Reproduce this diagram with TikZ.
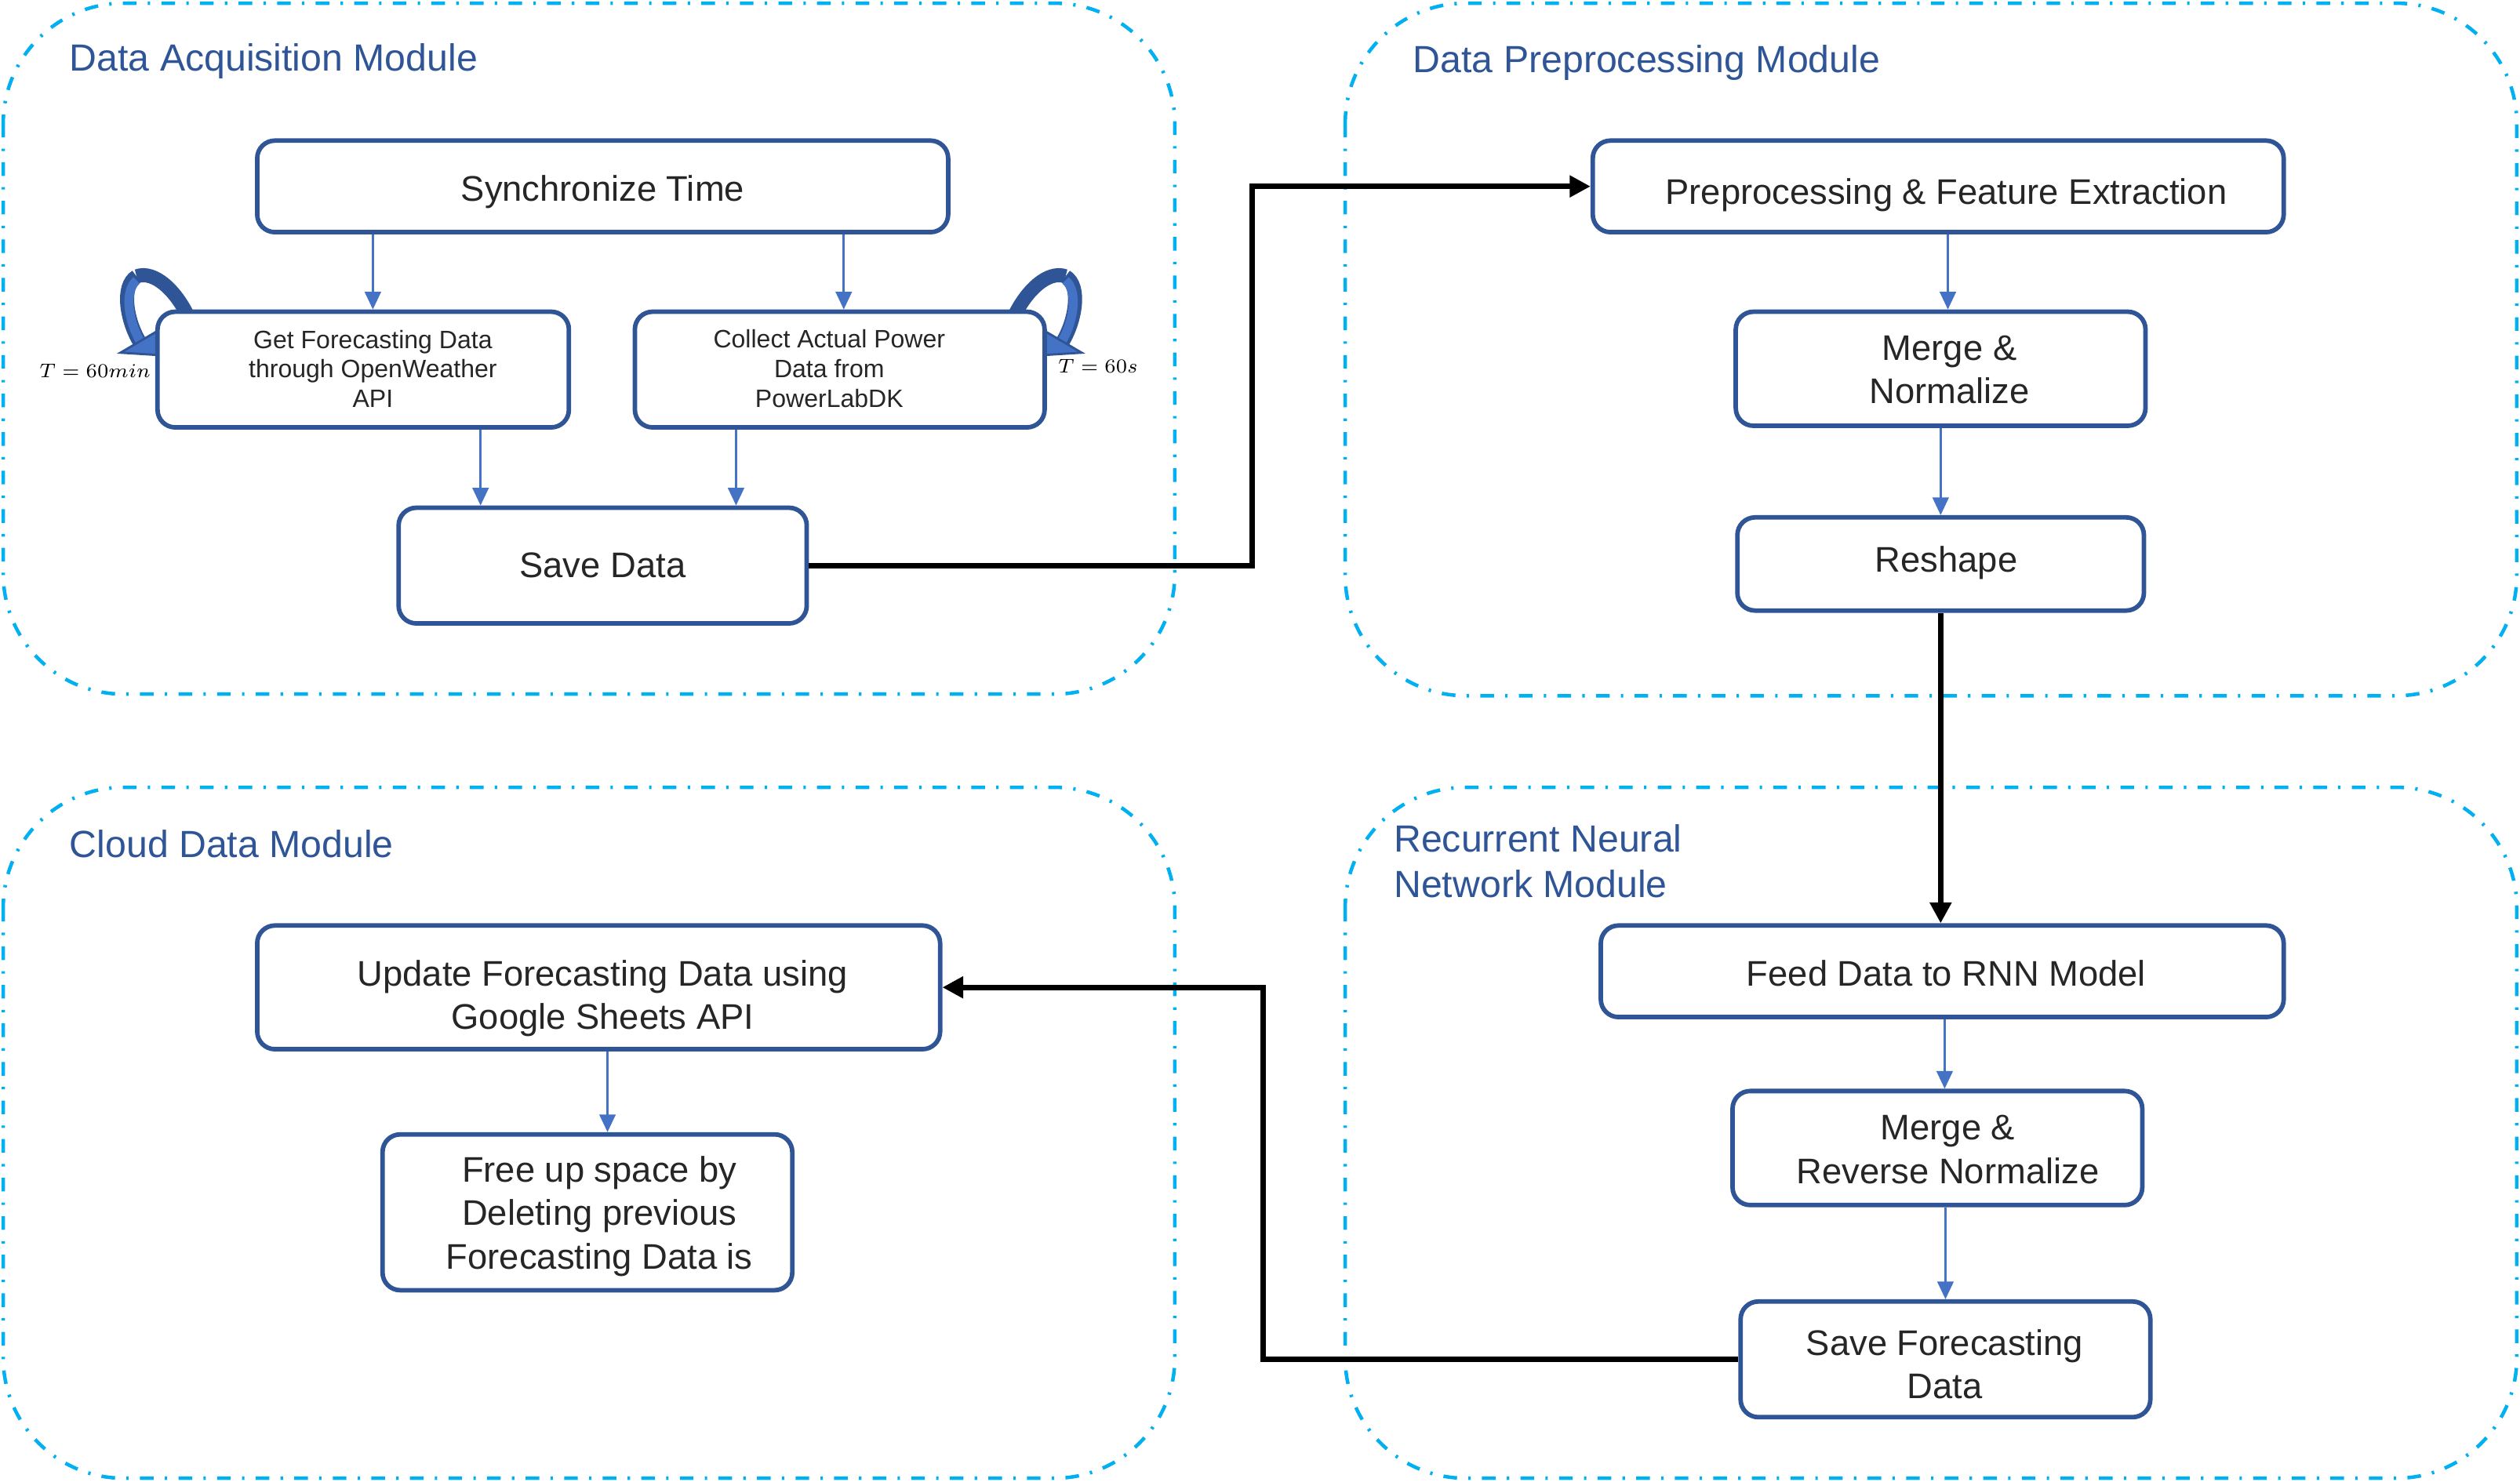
\documentclass[tikz,border=0pt]{standalone}
\usepackage{fontspec}
\setmainfont{Liberation Sans}
\usetikzlibrary{arrows.meta,calc}
\definecolor{dkblue}{HTML}{2F5597}
\definecolor{ltblue}{HTML}{4472C4}
\definecolor{cyanb}{HTML}{00B0F0}
\definecolor{txt}{HTML}{262626}
\begin{document}
\begin{tikzpicture}[x=0.02cm,y=-0.02cm,
 module/.style={draw=cyanb, line width=1.25pt, rounded corners=1.5cm, dash pattern=on 0.17cm off 0.14cm on 0.03cm off 0.14cm},
 title/.style={text=dkblue, font=\fontsize{13.4}{15.9}\selectfont, anchor=west, align=left, inner sep=0},
 box/.style={draw=dkblue, fill=white, line width=1.6pt, rounded corners=0.22cm, inner sep=0},
 lbl/.style={align=center, text=txt, inner sep=0, font=\fontsize{12.6}{15.4}\selectfont},
 smalllbl/.style={lbl, font=\fontsize{8.9}{10.5}\selectfont},
 flow/.style={draw=ltblue, line width=0.8pt, -{Triangle[length=0.22cm,width=0.2cm]}},
 link/.style={draw=black, line width=1.9pt, -{Triangle[length=0.26cm,width=0.26cm]}},
 loopdark/.style={draw=dkblue, line width=5pt},
 looplight/.style={draw=ltblue, line width=3.2pt},
 tlabel/.style={font=\fontsize{7.1}{9}\selectfont, inner sep=0}
]
\useasboundingbox (0,0) rectangle (1568,922);

% modules
\draw[module] (2,2) rectangle (731,432);
\draw[module] (837,2) rectangle (1566,433);
\draw[module] (2,490) rectangle (731,920);
\draw[module] (837,490) rectangle (1566,920);

\node[title] (t1) at (43,38) {Data Acquisition Module};
\node[title] (t2) at (879,39) {Data Preprocessing Module};
\node[title] (t3) at (43,525) {Cloud Data Module};
\node[title] (t4) at (867,536) {Recurrent Neural\\Network Module};

% loop arrows (behind boxes)
\draw[loopdark] (118,199) .. controls (110,181) and (96,168) .. (85,172);
\draw[loopdark] (85,172) .. controls (75,178) and (79,200) .. (87,213);
\draw[looplight] (85,174.5) .. controls (77,181) and (80,200) .. (87,212);
\filldraw[fill=ltblue, draw=dkblue, line width=0.8pt] (98,206) -- (75,219.5) -- (99,221) -- cycle;

\draw[loopdark] (630,199) .. controls (638,181) and (652,168) .. (663,172);
\draw[loopdark] (663,172) .. controls (673,178) and (669,200) .. (661,213);
\draw[looplight] (663,174.5) .. controls (671,181) and (668,200) .. (661,212);
\filldraw[fill=ltblue, draw=dkblue, line width=0.8pt] (650,206) -- (673,219.5) -- (649,221) -- cycle;

% boxes
\node[box, minimum width=8.6cm, minimum height=1.14cm] (sync) at (375,116) {};
\node[box, minimum width=5.12cm, minimum height=1.44cm] (get) at (226,230) {};
\node[box, minimum width=5.1cm, minimum height=1.44cm] (collect) at (522.5,230) {};
\node[box, minimum width=5.08cm, minimum height=1.44cm] (save) at (375,352) {};
\node[box, minimum width=8.6cm, minimum height=1.14cm] (pre) at (1206,116) {};
\node[box, minimum width=5.1cm, minimum height=1.42cm] (merge) at (1207.5,229.5) {};
\node[box, minimum width=5.06cm, minimum height=1.16cm] (reshape) at (1207.5,351) {};
\node[box, minimum width=8.5cm, minimum height=1.14cm] (feed) at (1208.5,604.5) {};
\node[box, minimum width=5.1cm, minimum height=1.42cm] (merge2) at (1205.5,714.5) {};
\node[box, minimum width=5.1cm, minimum height=1.44cm] (savef) at (1210.5,846) {};
\node[box, minimum width=8.5cm, minimum height=1.54cm] (update) at (372.5,614.5) {};
\node[box, minimum width=5.1cm, minimum height=1.94cm] (free) at (365.5,754.5) {};

% box texts
\node[lbl] (syncT) at (375,119.5) {Synchronize Time};
\node[smalllbl] (getT) at (232,229.5) {Get Forecasting Data\\through OpenWeather\\API};
\node[smalllbl] (collectT) at (516,229.5) {Collect Actual Power\\Data from\\PowerLabDK};
\node[lbl] (saveT) at (375,352) {Save Data};
\node[lbl] (preT) at (1211,121.5) {Preprocessing \& Feature Extraction};
\node[lbl] (mergeT) at (1213,230) {Merge \&\\Normalize};
\node[lbl] (reshapeT) at (1211,350.5) {Reshape};
\node[lbl] (feedT) at (1211,606) {Feed Data to RNN Model};
\node[lbl] (merge2T) at (1212,715.5) {Merge \&\\Reverse Normalize};
\node[lbl] (savefT) at (1210,849) {Save Forecasting\\Data};
\node[lbl] (updateT) at (375,621.5) {Update Forecasting Data using\\Google Sheets API};
\node[lbl] (freeT) at (373,757) {Free up space by\\Deleting previous\\Forecasting Data is};

% T labels
\node[tlabel, anchor=east] (tl) at (94,231) {$T = 60min$};
\node[tlabel, anchor=west] (tr) at (658,228) {$T = 60s$};

% thin flows
\coordinate (a1) at ([xshift=0.12cm]get.north);
\coordinate (a2) at ([xshift=0.05cm]collect.north);
\coordinate (a3) at ([xshift=-1.52cm]save.north);
\coordinate (a4) at ([xshift=1.66cm]save.north);
\coordinate (a5) at ([xshift=0.09cm]merge.north);
\coordinate (a6) at ([xshift=0.09cm]merge2.north);
\coordinate (a7) at ([xshift=0.25cm]free.north);
\draw[flow] (a1 |- sync.south) -- (a1);
\draw[flow] (a2 |- sync.south) -- (a2);
\draw[flow] (a3 |- get.south) -- (a3);
\draw[flow] (a4 |- collect.south) -- (a4);
\draw[flow] (a5 |- pre.south) -- (a5);
\draw[flow] (reshape.north |- merge.south) -- (reshape.north);
\draw[flow] (a6 |- feed.south) -- (a6);
\draw[flow] (savef.north |- merge2.south) -- (savef.north);
\draw[flow] (a7 |- update.south) -- (a7);

% black links
\coordinate (j1) at (779,352);
\coordinate (j2) at (786,846);
\draw[link] (save.east) -- (save.east -| j1) |- (pre.west);
\draw[link] (reshape.south) -- (reshape.south |- feed.north);
\draw[link] (savef.west) -- (savef.west -| j2) |- (update.east);
\end{tikzpicture}
\end{document}
